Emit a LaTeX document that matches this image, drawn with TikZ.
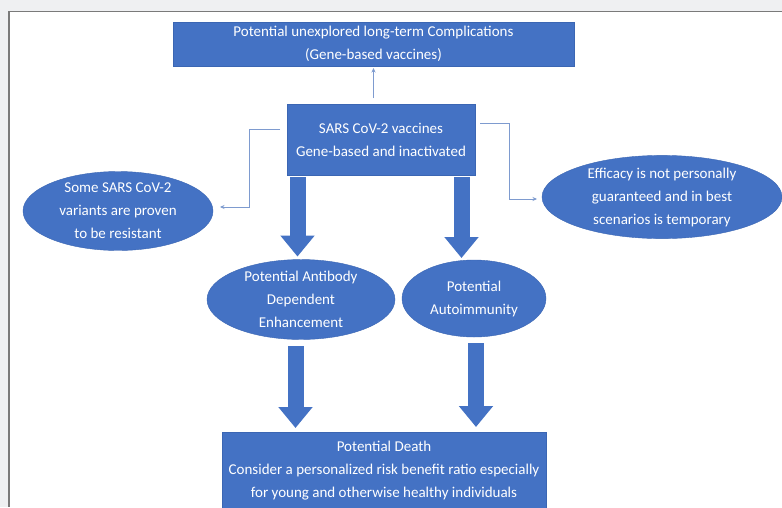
\documentclass[tikz,border=0pt]{standalone}
\usepackage{fontspec}
\setmainfont{Carlito}
\usetikzlibrary{arrows.meta,shapes.geometric,calc}
\definecolor{obblue}{HTML}{4472C4}
\definecolor{obedge}{HTML}{3B66B3}
\definecolor{connc}{HTML}{7E9BCF}
\definecolor{bggray}{HTML}{EFF0F2}
\definecolor{framec}{HTML}{7A7A7A}
\tikzset{
  txt/.style={text=white,font=\fontsize{15}{23}\selectfont,align=center,inner sep=0pt,outer sep=0pt},
  bluebox/.style={txt,rectangle,fill=obblue,draw=obedge,line width=0.4pt},
  blueell/.style={txt,ellipse,fill=obblue,draw=obedge,line width=0.4pt},
  conn/.style={draw=connc,line width=0.7pt,-{Stealth[length=4.5pt,width=4pt]}},
  blockarrow/.style={draw=obblue,line width=16pt,-{Triangle[length=21pt,width=33pt]}}
}
\begin{document}
\begin{tikzpicture}[x=1pt,y=-1pt]
\useasboundingbox (0,0) rectangle (782,507);
\fill[bggray] (0,0) rectangle (782,507);
\fill[white] (9,11) rectangle (782,507);
\draw[framec,line width=0.8pt] (9,11) -- (782,11);
\draw[framec,line width=2pt] (9,11) -- (9,507);

\node[bluebox,minimum width=401pt,minimum height=44pt] (top) at (373.5,44)
  {Potential unexplored long-term Complications\\(Gene-based vaccines)};
\node[bluebox,minimum width=188pt,minimum height=71pt] (sars) at (381,139.5)
  {SARS CoV-2 vaccines\\Gene-based and inactivated};
\node[blueell,minimum width=190pt,minimum height=76pt] (left) at (118,211)
  {Some SARS CoV-2\\variants are proven\\to be resistant};
\node[blueell,minimum width=240pt,minimum height=80pt] (right) at (662,197)
  {Efficacy is not personally\\guaranteed and in best\\scenarios is temporary};
\node[blueell,minimum width=188pt,minimum height=75pt] (ade) at (301,299.5)
  {Potential Antibody\\Dependent\\Enhancement};
\node[blueell,minimum width=144pt,minimum height=77pt] (auto) at (474,298.5)
  {Potential\\Autoimmunity};
\node[bluebox,minimum width=324pt,minimum height=78pt] (death) at (384,471)
  {Potential Death\\Consider a personalized risk benefit ratio especially\\for young and otherwise healthy individuals};

% thin connectors
\coordinate (t0) at (top.south |- sars.north);
\draw[conn] ([yshift=6pt]t0) -- ([yshift=-2pt]top.south);
\draw[conn] ([xshift=-7pt,yshift=10.5pt]sars.west) -- ++(-31,0) |- ([xshift=7pt,yshift=4pt]left.east);
\draw[conn] ([xshift=5pt,yshift=16.5pt]sars.east) -- ++(29,0) |- ([xshift=-5pt,yshift=-2pt]right.west);

% block arrows
\draw[blockarrow] ([yshift=-2pt]sars.south -| 297.5,0) -- ([yshift=3pt]ade.north -| 297.5,0);
\draw[blockarrow] ([yshift=-2pt]sars.south -| 461.5,0) -- ([yshift=2pt]auto.north -| 461.5,0);
\draw[blockarrow] ([yshift=-7pt]ade.south -| 295.5,0) -- ([yshift=4pt]death.north -| 295.5,0);
\draw[blockarrow] ([yshift=-6pt]auto.south -| 476,0) -- ([yshift=5pt]death.north -| 476,0);
\end{tikzpicture}
\end{document}
